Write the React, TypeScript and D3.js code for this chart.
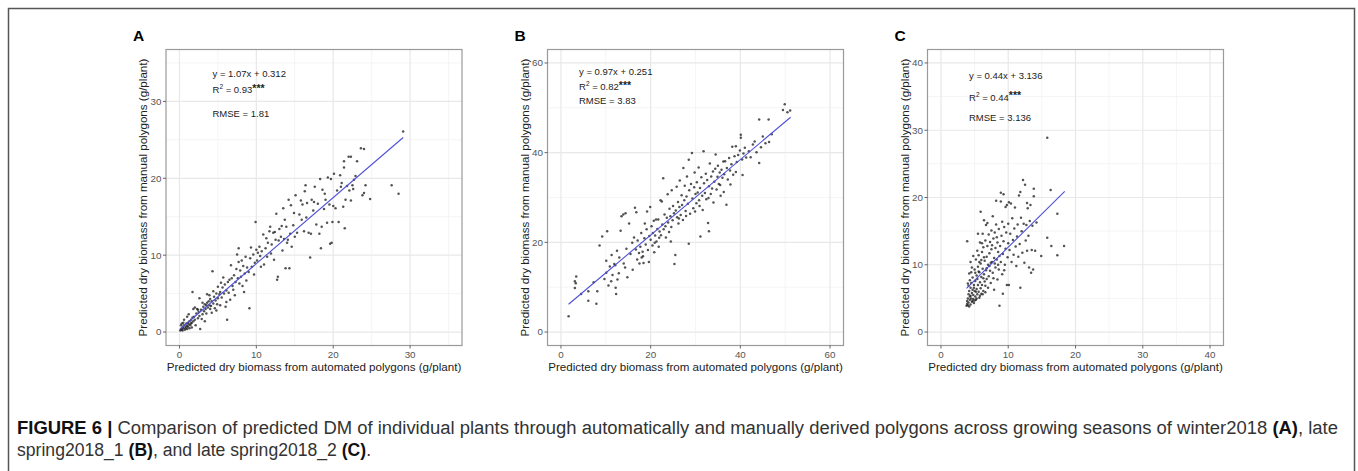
import React from "react";
import * as d3 from "d3";

// ---- data ----------------------------------------------------------------
// Panel A: winter2018, [automated, manual] predicted dry biomass (g/plant)
const pointsA: [number, number][] = [
  [0.1, 0.2], [0.2, 0.4], [0.3, 0.3], [0.4, 0.6], [0.5, 0.5], [0.6, 0.9], [0.8, 0.7], [0.9, 1.1],
  [1.0, 0.8], [1.1, 1.2], [1.2, 1.0], [1.3, 1.4], [1.4, 0.9], [1.5, 1.6], [1.6, 1.2], [1.7, 1.9],
  [1.8, 1.4], [1.9, 2.0], [2.0, 1.6], [0.3, 1.1], [0.5, 1.2], [0.7, 0.3], [1.0, 0.4], [1.3, 0.5],
  [1.6, 0.6], [2.1, 0.9], [0.2, 0.9], [1.0, 2.0], [1.2, 2.3], [0.6, 1.6], [1.7, 5.2], [0.4, 0.2],
  [0.8, 0.5], [1.1, 0.7], [1.5, 1.1], [2.2, 2.4], [2.4, 1.8], [2.5, 2.6], [2.6, 2.1], [2.7, 0.4],
  [2.8, 2.9], [3.0, 2.3], [3.1, 3.3], [3.2, 2.7], [3.3, 3.6], [3.4, 3.0], [3.5, 2.4], [3.6, 3.8],
  [3.7, 3.2], [3.8, 4.0], [3.9, 3.5], [4.0, 4.3], [4.1, 3.4], [4.2, 4.0], [4.3, 7.9], [4.4, 3.7],
  [4.5, 4.6], [4.6, 3.1], [4.7, 4.1], [4.8, 5.0], [4.9, 3.6], [5.0, 4.4], [2.3, 3.0], [2.9, 1.7],
  [3.3, 1.4], [4.2, 2.5], [4.8, 2.8], [2.0, 3.2], [3.6, 4.9], [4.4, 5.3], [5.2, 4.9], [5.0, 5.9],
  [5.3, 3.5], [2.6, 4.4], [1.8, 3.0], [3.9, 4.8], [2.4, 2.9], [3.0, 3.8], [3.5, 3.5], [4.0, 3.0],
  [5.3, 5.2], [5.5, 4.5], [5.6, 5.8], [5.8, 5.0], [5.9, 6.2], [6.0, 3.3], [6.1, 5.4], [6.2, 1.6],
  [6.3, 6.5], [6.4, 5.1], [6.5, 6.8], [6.6, 4.2], [6.8, 7.0], [6.9, 6.0], [7.0, 5.5], [7.1, 7.4],
  [7.3, 6.5], [7.4, 8.2], [7.5, 10.1], [7.6, 7.0], [7.7, 10.9], [7.8, 6.3], [7.9, 8.0], [8.0, 7.2],
  [8.1, 9.3], [8.2, 6.0], [8.3, 8.6], [8.5, 7.6], [8.6, 9.8], [8.7, 6.7], [8.8, 8.4], [9.0, 7.8],
  [9.1, 3.1], [9.2, 9.6], [9.3, 11.0], [9.4, 8.5], [9.6, 10.1], [9.8, 9.0], [9.9, 14.3], [10.0, 10.7],
  [6.7, 8.7], [7.2, 4.8], [5.7, 7.1], [8.4, 5.2], [9.7, 7.5], [6.1, 3.9], [7.7, 9.1], [5.4, 6.4],
  [10.1, 9.3], [10.2, 10.3], [10.4, 11.1], [10.5, 9.9], [10.7, 10.5], [10.9, 12.7], [11.0, 8.8],
  [11.2, 10.9], [11.4, 9.8], [11.5, 11.6], [11.7, 13.1], [11.9, 10.2], [12.0, 11.4], [12.2, 12.9],
  [12.3, 9.4], [12.4, 13.0], [12.6, 15.4], [12.7, 6.8], [12.8, 7.2], [12.9, 11.9], [13.0, 13.4],
  [13.2, 12.4], [13.3, 13.8], [13.4, 10.6], [13.5, 16.1], [13.6, 12.1], [13.8, 8.3], [13.9, 13.7],
  [14.0, 11.6], [14.2, 17.2], [14.3, 8.3], [14.4, 12.8], [14.5, 16.5], [14.6, 11.1], [14.8, 13.9],
  [14.9, 15.5], [15.0, 12.4], [15.1, 17.8], [10.6, 8.5], [11.8, 13.7], [12.5, 12.0], [13.7, 14.6],
  [14.1, 12.0], [11.3, 12.2], [15.3, 12.9], [15.6, 15.3], [15.8, 17.1], [16.0, 16.6], [16.2, 13.1],
  [16.4, 19.1], [16.5, 14.9], [16.6, 16.8], [16.8, 12.9], [17.0, 9.7], [17.2, 17.2], [17.4, 15.8],
  [17.6, 18.9], [17.8, 14.0], [18.0, 16.7], [18.2, 12.8], [18.3, 19.9], [18.4, 10.9], [18.5, 13.7],
  [18.6, 18.5], [18.8, 16.0], [19.0, 17.2], [19.2, 14.2], [19.3, 20.1], [19.5, 16.6], [19.6, 11.5],
  [19.7, 19.9], [19.8, 11.6], [19.9, 14.3], [20.0, 16.4], [16.3, 18.3], [17.1, 12.8], [15.9, 14.6],
  [18.9, 18.0], [17.5, 16.9], [20.1, 20.6], [20.3, 16.1], [20.5, 18.4], [20.7, 14.3], [20.9, 20.4],
  [21.1, 19.4], [21.3, 16.3], [21.4, 21.4], [21.4, 22.2], [21.6, 17.2], [21.8, 19.0], [22.0, 22.8],
  [22.1, 18.4], [22.3, 17.1], [22.3, 22.8], [22.5, 19.1], [22.7, 19.8], [22.9, 20.3], [23.1, 22.2],
  [23.6, 23.9], [24.0, 23.8], [24.0, 18.1], [24.2, 19.1], [24.8, 17.3], [27.6, 19.1], [28.5, 18.0],
  [29.1, 26.1], [21.5, 13.5], [22.6, 18.6], [23.8, 17.8], [21.0, 18.9],
];

// Panel B: late spring2018_1
const pointsB: [number, number][] = [
  [1.7, 3.5], [3.1, 11.3], [3.4, 12.4], [3.1, 9.8], [3.3, 10.9], [4.5, 8.5], [6.1, 7.0], [6.1, 9.1],
  [7.3, 11.1], [7.9, 6.3], [8.1, 9.1], [8.6, 19.3], [9.2, 21.3], [9.7, 11.8], [10.1, 15.9], [10.3, 22.5],
  [10.1, 13.2], [10.6, 10.4], [10.9, 14.6], [11.2, 11.3], [11.3, 17.2], [11.5, 12.7], [11.9, 15.2],
  [12.1, 14.9], [12.2, 9.9], [12.3, 8.5], [12.5, 18.1], [12.6, 11.7], [12.9, 13.1], [13.0, 16.6],
  [13.3, 22.6], [13.5, 25.8], [13.9, 26.2], [14.0, 15.3], [14.3, 14.4], [14.4, 26.5], [14.6, 18.6],
  [14.8, 12.2], [15.2, 24.2], [15.5, 17.4], [15.9, 19.9], [16.0, 13.9], [16.3, 21.1], [16.5, 27.7],
  [16.7, 18.4], [16.8, 26.7], [17.0, 16.2], [17.1, 20.4], [17.4, 17.6], [17.5, 15.3], [17.7, 19.0],
  [17.9, 22.1], [18.0, 16.6], [18.2, 17.9], [18.4, 15.4], [18.6, 20.9], [18.7, 24.2], [18.9, 19.5],
  [19.1, 22.9], [19.2, 26.9], [19.4, 18.3], [19.6, 15.6], [19.7, 21.4], [19.9, 27.9], [20.0, 20.6],
  [20.2, 23.6], [20.4, 19.3], [20.5, 22.1], [20.7, 24.8], [20.8, 17.8], [21.0, 21.5], [21.2, 25.1],
  [21.3, 20.2], [21.5, 23.0], [21.7, 25.1], [21.8, 19.0], [22.0, 22.4], [22.2, 29.4], [22.3, 21.6],
  [22.5, 29.1], [22.6, 24.0], [22.8, 34.3], [22.9, 22.9], [23.1, 26.2], [23.3, 23.6], [23.4, 21.1],
  [23.6, 25.5], [23.8, 30.7], [23.9, 24.4], [24.1, 22.3], [24.2, 27.5], [24.4, 25.8], [24.5, 20.2],
  [24.7, 31.6], [24.9, 24.9], [25.0, 28.1], [25.2, 26.5], [25.3, 15.2], [25.5, 17.2], [25.6, 27.1],
  [25.8, 32.4], [25.9, 25.6], [26.1, 29.0], [26.2, 24.2], [26.4, 27.9], [26.5, 33.8], [26.7, 26.1],
  [26.9, 30.5], [27.0, 28.3], [27.2, 25.0], [27.3, 36.6], [27.5, 29.4], [27.6, 32.6], [27.8, 27.0],
  [28.0, 30.2], [28.1, 34.7], [28.3, 28.6], [28.5, 19.7], [28.5, 38.4], [28.6, 31.6], [28.8, 26.4],
  [29.0, 33.0], [29.2, 39.9], [29.3, 29.8], [29.5, 27.6], [29.7, 32.3], [29.8, 35.6], [30.0, 30.8],
  [30.2, 28.7], [30.3, 33.4], [30.5, 31.1], [30.7, 36.7], [30.8, 29.4], [31.0, 32.1], [31.1, 21.3],
  [31.3, 34.5], [31.5, 30.4], [31.6, 27.2], [31.8, 40.3], [31.9, 33.2], [32.1, 31.0], [32.3, 35.3],
  [32.4, 29.6], [32.6, 33.9], [32.8, 24.3], [33.0, 22.5], [33.0, 32.5], [33.2, 37.6], [33.4, 30.8],
  [33.5, 34.7], [33.7, 32.0], [33.9, 35.8], [34.0, 28.9], [34.2, 33.5], [34.4, 36.4], [34.5, 39.6],
  [34.7, 31.8], [34.9, 34.6], [35.0, 37.1], [35.2, 33.0], [35.4, 35.6], [35.6, 30.4], [35.8, 36.2],
  [36.0, 34.4], [36.2, 38.0], [36.4, 35.2], [36.6, 38.1], [36.9, 28.4], [37.0, 36.6], [37.2, 34.0],
  [37.5, 38.8], [37.7, 36.0], [38.0, 37.4], [38.2, 41.3], [38.4, 35.1], [38.7, 39.2], [39.0, 41.4],
  [39.2, 37.9], [39.5, 39.5], [39.9, 40.5], [40.1, 44.0], [40.1, 43.3], [40.4, 38.5], [40.7, 39.8],
  [41.0, 41.1], [41.3, 38.9], [41.9, 40.3], [42.3, 39.0], [42.8, 41.8], [43.2, 42.5], [43.6, 40.1],
  [44.2, 37.7], [44.2, 47.4], [44.6, 41.2], [45.0, 43.6], [45.6, 42.1], [46.3, 47.4], [46.4, 42.4],
  [47.0, 44.1], [49.5, 49.5], [49.9, 50.8], [50.5, 49.0], [51.1, 49.4], [40.5, 35.0], [37.8, 32.9],
  [36.3, 31.2], [39.0, 35.7], [18.3, 16.9], [21.9, 21.0], [24.6, 23.4], [27.9, 25.9], [30.9, 28.1],
  [32.9, 29.9], [35.5, 32.8], [20.9, 19.9], [26.3, 25.3], [29.9, 26.9],
];

// Panel C: late spring2018_2
const pointsC: [number, number][] = [
  [3.8, 3.9], [3.9, 4.2], [3.9, 4.6], [4.0, 4.0], [4.0, 5.0], [4.1, 4.4], [4.1, 5.6], [4.2, 3.8],
  [4.2, 6.1], [4.3, 4.8], [4.3, 5.3], [4.4, 4.1], [4.4, 6.6], [4.5, 5.0], [4.5, 7.3], [4.6, 4.5],
  [4.6, 5.8], [4.7, 6.3], [4.7, 8.1], [4.8, 4.9], [4.8, 5.5], [4.9, 7.0], [4.9, 4.3], [5.0, 6.1],
  [5.0, 9.3], [3.9, 13.5], [4.0, 7.2], [4.2, 8.7], [4.4, 10.4], [4.6, 9.6], [4.8, 11.3], [4.1, 6.9],
  [4.3, 7.7], [4.5, 8.9], [5.1, 5.3], [5.1, 7.6], [5.2, 4.8], [5.2, 10.8], [5.3, 6.4], [5.3, 8.4],
  [5.4, 5.6], [5.4, 12.1], [5.5, 7.0], [5.5, 9.7], [5.6, 6.0], [5.6, 11.4], [5.7, 5.1], [5.7, 8.9],
  [5.8, 7.4], [5.8, 13.3], [5.9, 6.5], [5.9, 17.9], [5.9, 10.2], [6.0, 5.7], [6.0, 8.2], [6.1, 11.9],
  [6.1, 7.0], [6.2, 9.4], [6.2, 14.6], [6.3, 6.1], [6.3, 12.6], [6.4, 8.6], [6.4, 16.6], [6.5, 10.6],
  [6.5, 7.5], [6.6, 13.6], [6.6, 5.9], [6.7, 9.2], [6.7, 15.9], [6.8, 11.2], [6.8, 7.9], [6.9, 12.8],
  [6.9, 16.2], [7.0, 10.0], [7.0, 6.6], [5.2, 6.0], [5.6, 9.0], [6.0, 10.7], [6.4, 11.1], [6.8, 9.5],
  [5.4, 7.9], [5.8, 5.4], [6.2, 5.6], [6.6, 6.9], [5.5, 14.6], [6.1, 13.2], [4.4, 5.4], [4.9, 6.6],
  [5.1, 8.8], [5.7, 10.4], [6.3, 8.0], [4.7, 4.6], [5.0, 4.7], [5.3, 5.0],
  [7.1, 14.5], [7.1, 8.3], [7.2, 11.7], [7.3, 13.4], [7.3, 9.1], [7.4, 7.3], [7.5, 15.1], [7.5, 12.3],
  [7.6, 10.4], [7.7, 17.2], [7.7, 8.8], [7.8, 13.9], [7.9, 11.0], [7.9, 6.3], [8.0, 14.8], [8.1, 9.6],
  [8.1, 12.5], [8.2, 19.5], [8.2, 16.0], [8.3, 10.8], [8.4, 13.3], [8.4, 7.8], [8.5, 11.9], [8.6, 15.3],
  [8.6, 9.3], [8.7, 3.9], [8.8, 12.8], [8.9, 20.7], [8.9, 19.4], [8.9, 10.4], [9.0, 14.3], [9.1, 16.4],
  [9.1, 8.6], [9.2, 5.7], [9.2, 11.6], [9.3, 20.5], [9.3, 13.5], [9.4, 15.6], [9.5, 10.0], [9.6, 18.6],
  [9.6, 12.4], [9.7, 14.8], [9.8, 18.9], [9.9, 11.1], [10.0, 16.1], [10.0, 13.2], [7.4, 10.3], [7.8, 8.0],
  [8.3, 14.1], [8.7, 11.3], [9.4, 9.2], [9.8, 7.0], [7.6, 12.9], [8.0, 10.2], [7.2, 9.8], [8.5, 10.0],
  [10.1, 7.0], [10.1, 19.3], [10.2, 12.2], [10.3, 14.6], [10.4, 19.1], [10.5, 10.4], [10.6, 16.9],
  [10.7, 13.7], [10.8, 11.5], [10.9, 15.4], [11.0, 18.5], [11.1, 12.7], [11.2, 9.8], [11.3, 14.2],
  [11.4, 16.0], [11.5, 11.2], [11.6, 20.3], [11.7, 13.1], [11.8, 6.6], [11.8, 20.8], [11.9, 17.0],
  [12.0, 15.0], [12.1, 11.8], [12.2, 22.6], [12.3, 16.1], [12.4, 10.3], [12.5, 21.9], [12.6, 13.6],
  [12.7, 15.9], [12.8, 12.1], [12.9, 18.4], [13.0, 14.3], [13.1, 9.6], [13.2, 16.5], [13.4, 8.8],
  [13.5, 12.2], [13.6, 15.8], [13.8, 21.3], [13.8, 20.2], [13.7, 9.3], [14.0, 12.1], [14.2, 16.3],
  [14.9, 11.3], [15.8, 14.0], [15.8, 28.9], [16.3, 21.1], [16.4, 12.8], [17.3, 11.4], [17.3, 17.6],
  [18.3, 12.8], [13.3, 18.9], [12.8, 19.2],
];

// Fitted lines, endpoints over each data range
const fitA: [number, number][] = [[0.1, 0.4], [29.1, 25.3]];
const fitB: [number, number][] = [[1.7, 6.2], [51.2, 47.9]];
const fitC: [number, number][] = [[3.8, 6.5], [18.4, 20.9]];

const ticksA = [0, 10, 20, 30];
const ticksB = [0, 20, 40, 60];
const ticksC = [0, 10, 20, 30, 40];
const minorA = [5, 15, 25, 35];
const minorB = [10, 30, 50];
const minorC = [5, 15, 25, 35];

const eqLabels = ["y = 1.07x + 0.312", "y = 0.97x + 0.251", "y = 0.44x + 3.136"];
const r2Labels = ["0.93", "0.82", "0.44"];
const rmseLabels = ["RMSE = 1.81", "RMSE = 3.83", "RMSE = 3.136"];
const panelLabels = ["A", "B", "C"];

const xTitle = "Predicted dry biomass from automated polygons (g/plant)";
const yTitle = "Predicted dry biomass from manual polygons (g/plant)";

// ---- layout --------------------------------------------------------------
const FONT = "'Liberation Sans', Arial, Helvetica, sans-serif";
const PANEL_TOP = 49.5;
const PANEL_SIZE = 296;

const panels = [
  { left: 166, limits: [0, 35], points: pointsA, fit: fitA, ticks: ticksA, minor: minorA, annX: 212.5, annY: [77, 93, 117] },
  { left: 547.5, limits: [0, 60], points: pointsB, fit: fitB, ticks: ticksB, minor: minorB, annX: 579, annY: [75, 90, 104] },
  { left: 927.5, limits: [0, 40], points: pointsC, fit: fitC, ticks: ticksC, minor: minorC, annX: 969, annY: [79, 100.5, 120.5] },
];

function ScatterPanel({ idx }: { idx: number }) {
  const p = panels[idx];
  const [lo, hi] = p.limits;
  const pad = (hi - lo) * 0.05;
  const x = d3.scaleLinear().domain([lo - pad, hi + pad]).range([p.left, p.left + PANEL_SIZE]);
  const y = d3.scaleLinear().domain([lo - pad, hi + pad]).range([PANEL_TOP + PANEL_SIZE, PANEL_TOP]);
  const top = PANEL_TOP;
  const bottom = PANEL_TOP + PANEL_SIZE;
  const right = p.left + PANEL_SIZE;
  const line = d3.line<[number, number]>().x((d) => x(d[0])).y((d) => y(d[1]));

  return (
    <g>
      <text x={p.left - 33} y={40.5} fontFamily={FONT} fontWeight="bold" fontSize={15.5} fill="#000">
        {panelLabels[idx]}
      </text>
      <rect x={p.left} y={top} width={PANEL_SIZE} height={PANEL_SIZE} fill="#fff" />
      {/* minor grid */}
      {p.minor.map((v) => (
        <g key={"m" + v}>
          <line x1={x(v)} x2={x(v)} y1={top} y2={bottom} stroke="#f3f3f3" strokeWidth={0.8} />
          <line x1={p.left} x2={right} y1={y(v)} y2={y(v)} stroke="#f3f3f3" strokeWidth={0.8} />
        </g>
      ))}
      {/* major grid */}
      {p.ticks.map((v) => (
        <g key={"g" + v}>
          <line x1={x(v)} x2={x(v)} y1={top} y2={bottom} stroke="#e8e8e8" strokeWidth={1.2} />
          <line x1={p.left} x2={right} y1={y(v)} y2={y(v)} stroke="#e8e8e8" strokeWidth={1.2} />
        </g>
      ))}
      {/* points */}
      {p.points.map((d, i) => (
        <circle key={i} cx={x(d[0])} cy={y(d[1])} r={1.25} fill="#1a1a1a" fillOpacity={0.75} />
      ))}
      <path d={line(p.fit) ?? ""} stroke="#4c4fd8" strokeWidth={1.1} fill="none" />
      <rect x={p.left} y={top} width={PANEL_SIZE} height={PANEL_SIZE} fill="none" stroke="#9a9a9a" strokeWidth={1.2} />
      {/* axes */}
      {p.ticks.map((v) => (
        <g key={"t" + v}>
          <line x1={x(v)} x2={x(v)} y1={bottom} y2={bottom + 3} stroke="#555" strokeWidth={0.9} />
          <text x={x(v)} y={bottom + 12.5} textAnchor="middle" fontFamily={FONT} fontSize={9.8} fill="#555">
            {v}
          </text>
          <line x1={p.left - 3} x2={p.left} y1={y(v)} y2={y(v)} stroke="#555" strokeWidth={0.9} />
          <text x={p.left - 4.5} y={y(v) + 3.4} textAnchor="end" fontFamily={FONT} fontSize={9.8} fill="#555">
            {v}
          </text>
        </g>
      ))}
      <text x={p.left + PANEL_SIZE / 2} y={bottom + 25} textAnchor="middle" fontFamily={FONT} fontSize={11.6} fill="#222">
        {xTitle}
      </text>
      <text
        transform={`translate(${p.left - 19},${top + PANEL_SIZE / 2}) rotate(-90)`}
        textAnchor="middle"
        fontFamily={FONT}
        fontSize={11.6}
        fill="#222"
      >
        {yTitle}
      </text>
      {/* fit annotation */}
      <g fontFamily={FONT} fontSize={9.5} fill="#222">
        <text x={p.annX} y={p.annY[0]}>{eqLabels[idx]}</text>
        <text x={p.annX} y={p.annY[1]}>
          R<tspan dy={-4} fontSize={6.5}>2</tspan>
          <tspan dy={4}>{" = " + r2Labels[idx]}</tspan>
          <tspan dy={-1.5} fontWeight="bold" fontSize={10.5}>***</tspan>
        </text>
        <text x={p.annX} y={p.annY[2]}>{rmseLabels[idx]}</text>
      </g>
    </g>
  );
}

export default function App() {
  return (
    <svg
      width={1358}
      height={471}
      style={{ position: "absolute", left: 0, top: 0, background: "#fff" }}
    >
      <rect x={0} y={0} width={1358} height={471} fill="#fff" />
      <rect x={8.5} y={8.5} width={1346} height={490} fill="none" stroke="#555" strokeWidth={1.5} />
      {panels.map((_, i) => (
        <ScatterPanel key={i} idx={i} />
      ))}
      <g fontFamily={FONT} fontSize={17.6} fill="#333">
        <text x={17} y={434} textLength={1321} lengthAdjust="spacingAndGlyphs">
          <tspan fontWeight="bold" fill="#111">FIGURE 6 | </tspan>
          Comparison of predicted DM of individual plants through automatically and manually derived polygons
          across growing seasons of winter2018 <tspan fontWeight="bold" fill="#111">(A)</tspan>, late
        </text>
        <text x={17} y={456}>
          spring2018_1 <tspan fontWeight="bold" fill="#111">(B)</tspan>, and late spring2018_2{" "}
          <tspan fontWeight="bold" fill="#111">(C)</tspan>.
        </text>
      </g>
    </svg>
  );
}
